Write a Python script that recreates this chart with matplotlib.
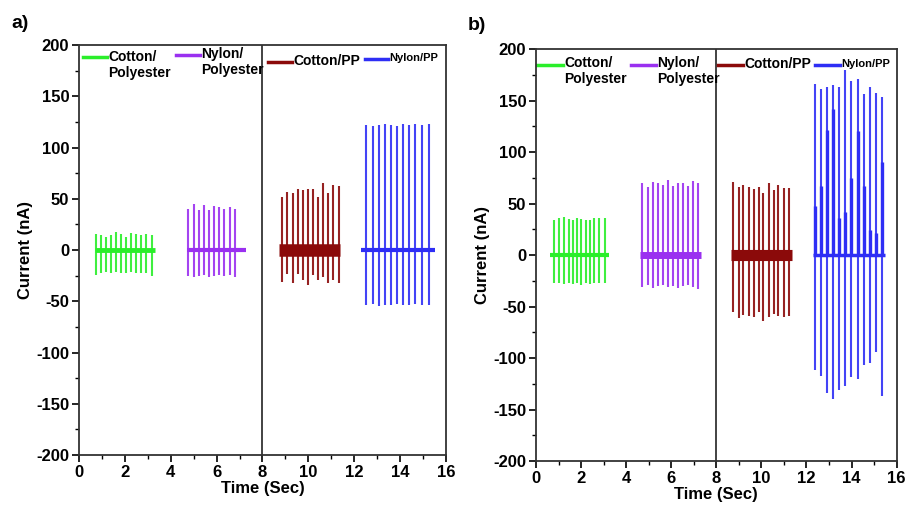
import matplotlib.pyplot as plt
from matplotlib.ticker import MultipleLocator

plt.rcParams['font.family'] = ['Liberation Sans', 'DejaVu Sans']
plt.rcParams['font.weight'] = 'bold'
plt.rcParams['axes.unicode_minus'] = False

GREEN = '#2aee2a'
PURPLE = '#9a30f0'
BROWN = '#8b0a0a'
BLUE = '#2e2ef5'

# ---- panel a ----
a_green_t = [0.74, 0.96, 1.18, 1.38, 1.60, 1.82, 2.05, 2.27, 2.48, 2.70, 2.92, 3.17]
a_green_hi = [16, 15, 13, 15, 18, 16, 13, 17, 16, 15, 16, 15]
a_green_lo = [-24, -22, -21, -22, -21, -22, -22, -21, -22, -22, -22, -25]
a_green_base = (0.70, 3.30)

a_purple_t = [4.77, 5.00, 5.22, 5.45, 5.67, 5.90, 6.11, 6.33, 6.57, 6.79]
a_purple_hi = [40, 45, 39, 44, 39, 43, 42, 40, 42, 40]
a_purple_lo = [-25, -26, -25, -24, -26, -25, -24, -25, -24, -26]
a_purple_base = (4.70, 7.30)

a_brown_t = [8.84, 9.08, 9.32, 9.55, 9.75, 9.99, 10.21, 10.43, 10.65, 10.87, 11.09, 11.32]
a_brown_hi = [52, 57, 56, 60, 59, 60, 60, 52, 65, 56, 63, 62]
a_brown_lo = [-31, -23, -32, -23, -29, -34, -24, -29, -26, -32, -29, -32]
a_brown_base = (8.70, 11.40)

a_blue_t = [12.51, 12.80, 13.07, 13.33, 13.60, 13.86, 14.14, 14.40, 14.66, 14.95, 15.24]
a_blue_hi = [122, 121, 122, 123, 122, 121, 123, 122, 123, 122, 123]
a_blue_lo = [-54, -53, -55, -54, -54, -53, -54, -54, -53, -54, -54]
a_blue_base = (12.30, 15.50)

# ---- panel b ----
b_green_t = [0.80, 1.02, 1.24, 1.45, 1.64, 1.83, 2.01, 2.20, 2.40, 2.59, 2.81, 3.06]
b_green_hi = [34, 36, 37, 35, 34, 36, 35, 34, 34, 36, 36, 36]
b_green_lo = [-27, -27, -28, -27, -28, -27, -29, -27, -28, -27, -27, -27]
b_green_base = (0.62, 3.25)

b_purple_t = [4.72, 4.95, 5.19, 5.41, 5.63, 5.86, 6.07, 6.29, 6.51, 6.73, 6.95, 7.18]
b_purple_hi = [70, 66, 71, 70, 68, 73, 67, 70, 70, 67, 72, 70]
b_purple_lo = [-31, -29, -32, -30, -29, -31, -30, -32, -30, -29, -31, -33]
b_purple_base = (4.60, 7.30)

b_brown_t = [8.75, 9.00, 9.20, 9.44, 9.66, 9.88, 10.08, 10.33, 10.54, 10.75, 10.99, 11.21]
b_brown_hi = [71, 66, 68, 66, 64, 66, 60, 70, 63, 68, 65, 65]
b_brown_lo = [-55, -61, -58, -59, -60, -55, -64, -60, -57, -59, -60, -59]
b_brown_base = (8.65, 11.38)

b_blue_t = [12.37, 12.65, 12.91, 13.17, 13.44, 13.73, 13.99, 14.27, 14.54, 14.80, 15.08, 15.37]
b_blue_hi = [166, 161, 163, 165, 163, 180, 169, 171, 156, 163, 157, 153]
b_blue_lo = [-112, -117, -134, -140, -131, -127, -118, -120, -107, -105, -94, -137]
b_blue_sec = [48, 67, 121, 142, 36, 42, 75, 120, 67, 24, 21, 90]
b_blue_base = (12.30, 15.50)

panels = [
    ('a)', [(a_green_t, a_green_hi, a_green_lo, a_green_base, GREEN, 3.5),
            (a_purple_t, a_purple_hi, a_purple_lo, a_purple_base, PURPLE, 3.0),
            (a_brown_t, a_brown_hi, a_brown_lo, a_brown_base, BROWN, 9.0),
            (a_blue_t, a_blue_hi, a_blue_lo, a_blue_base, BLUE, 3.0)]),
    ('b)', [(b_green_t, b_green_hi, b_green_lo, b_green_base, GREEN, 3.0),
            (b_purple_t, b_purple_hi, b_purple_lo, b_purple_base, PURPLE, 5.0),
            (b_brown_t, b_brown_hi, b_brown_lo, b_brown_base, BROWN, 8.0),
            (b_blue_t, b_blue_hi, b_blue_lo, b_blue_base, BLUE, 2.5)]),
]

fig = plt.figure(figsize=(9.07, 5.08), dpi=100)
axes = [fig.add_axes([0.0871, 0.1043, 0.4046, 0.807]),
        fig.add_axes([0.591, 0.0925, 0.3975, 0.811])]

for ax, (tag, series) in zip(axes, panels):
    for t, hi, lo, base, col, blw in series:
        ax.vlines(t, lo, hi, color=col, lw=1.5, alpha=0.9)
        ax.hlines(0, base[0], base[1], color=col, lw=blw)
    ax.axvline(8, color='#222222', lw=1.2)
    ax.set_xlim(0, 16)
    ax.set_ylim(-200, 200)
    ax.xaxis.set_major_locator(MultipleLocator(2))
    ax.xaxis.set_minor_locator(MultipleLocator(1))
    ax.yaxis.set_major_locator(MultipleLocator(50))
    ax.yaxis.set_minor_locator(MultipleLocator(25))
    ax.tick_params(which='major', direction='out', length=5, width=1.2, labelsize=12, pad=2)
    ax.tick_params(which='minor', direction='out', length=3, width=1.0)
    for s in ax.spines.values():
        s.set_linewidth(1.3)
        s.set_color('#333333')
    ax.set_xlabel('Time (Sec)', fontsize=12, fontweight='bold', labelpad=1)
    ax.set_ylabel('Current (nA)', fontsize=12, fontweight='bold', labelpad=2)

axes[1].vlines(b_blue_t, 0, b_blue_sec, color=BLUE, lw=2.4)

fig.text(0.013, 0.945, 'a)', fontsize=14, fontweight='bold')
fig.text(0.516, 0.94, 'b)', fontsize=14, fontweight='bold')

# legend entries drawn by hand
legend_a = [
    (0.011, 0.076, 0.971, GREEN, 'Cotton/\nPolyester', 10, 0.988, 'top'),
    (0.264, 0.330, 0.976, PURPLE, 'Nylon/\nPolyester', 10, 0.995, 'top'),
    (0.515, 0.580, 0.959, BROWN, 'Cotton/PP', 10, 0.961, 'center'),
    (0.779, 0.842, 0.966, BLUE, 'Nylon/PP', 8, 0.968, 'center'),
]
legend_b = [
    (0.003, 0.074, 0.961, GREEN, 'Cotton/\nPolyester', 10, 0.982, 'top'),
    (0.264, 0.332, 0.961, PURPLE, 'Nylon/\nPolyester', 10, 0.982, 'top'),
    (0.505, 0.574, 0.961, BROWN, 'Cotton/PP', 10, 0.963, 'center'),
    (0.775, 0.843, 0.961, BLUE, 'Nylon/PP', 8, 0.963, 'center'),
]
for ax, entries in zip(axes, [legend_a, legend_b]):
    for x0, x1, y, col, label, fs, ty, va in entries:
        ax.plot([x0, x1], [y, y], color=col, lw=2.5, transform=ax.transAxes, clip_on=False)
        ax.text(x1 + 0.004, ty, label, fontsize=fs, fontweight='bold', va=va, ha='left',
                transform=ax.transAxes, linespacing=1.15)

fig.savefig('out.png', dpi=100)
